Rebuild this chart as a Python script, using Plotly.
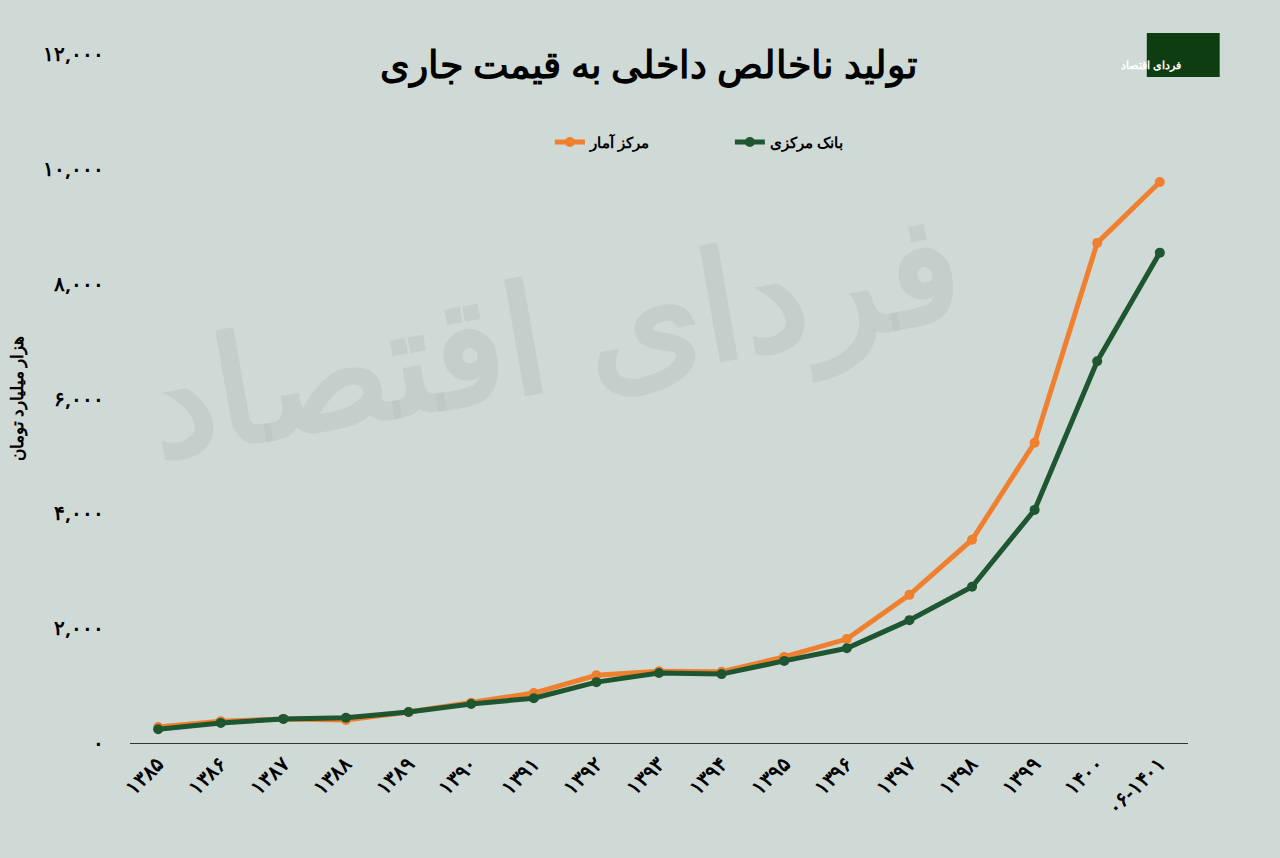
import plotly.graph_objects as go

years = ["۱۳۸۵", "۱۳۸۶", "۱۳۸۷", "۱۳۸۸", "۱۳۸۹", "۱۳۹۰", "۱۳۹۱", "۱۳۹۲", "۱۳۹۳",
         "۱۳۹۴", "۱۳۹۵", "۱۳۹۶", "۱۳۹۷", "۱۳۹۸", "۱۳۹۹", "۱۴۰۰", "۰۶-۱۴۰۱"]
markaz_amar = [280, 380, 420, 400, 540, 700, 870, 1180, 1250, 1240, 1500, 1810,
               2580, 3540, 5230, 8710, 9770]
bank_markazi = [240, 350, 420, 440, 540, 680, 780, 1060, 1220, 1200, 1430, 1650,
                2140, 2720, 4060, 6650, 8540]
y_ticks = [0, 2000, 4000, 6000, 8000, 10000, 12000]
y_labels = ["۰", "۲,۰۰۰", "۴,۰۰۰", "۶,۰۰۰", "۸,۰۰۰", "۱۰,۰۰۰", "۱۲,۰۰۰"]

FONT = "Noto Sans"
fig = go.Figure()
fig.add_trace(go.Scatter(x=years, y=markaz_amar, name="<b>مرکز آمار</b>", mode="lines+markers",
                         line=dict(color="#f07f2e", width=5),
                         marker=dict(size=10, color="#f07f2e")))
fig.add_trace(go.Scatter(x=years, y=bank_markazi, name="<b>بانک مرکزی</b>", mode="lines+markers",
                         line=dict(color="#1e5631", width=5),
                         marker=dict(size=10, color="#1e5631")))

# watermark
fig.add_annotation(text="<b>فردای اقتصاد</b>", xref="paper", yref="paper", x=0.4, y=0.6,
                   showarrow=False, textangle=-10,
                   font=dict(family=FONT, size=150, color="rgba(175,190,183,0.35)"))
# logo
fig.add_shape(type="rect", xref="paper", yref="paper", x0=0.962, x1=1.029,
              y0=0.968, y1=1.029, fillcolor="#0f3d12", line=dict(color="#0f3d12"))
fig.add_annotation(text="<b>فردای اقتصاد</b>", xref="paper", yref="paper", x=0.9955, y=0.999,
                   showarrow=False, font=dict(family=FONT, size=11, color="white"))

fig.update_layout(
    width=1280, height=858,
    paper_bgcolor="#cfd9d6", plot_bgcolor="#cfd9d6",
    margin=dict(l=130, r=92, t=54, b=115),
    font=dict(family=FONT, color="#111"),
    title=dict(text="<b>تولید ناخالص داخلی به قیمت جاری</b>", x=0.507, y=0.925,
               xanchor="center", yanchor="middle", font=dict(size=38, color="#000")),
    legend=dict(orientation="h", x=0.567, xanchor="center", y=0.872, yanchor="middle",
                font=dict(size=15, color="#000"), bgcolor="rgba(0,0,0,0)",
                entrywidth=135),
    showlegend=True,
)
fig.update_xaxes(tickangle=-45, tickfont=dict(size=20, color="#000"), showgrid=False,
                 showline=True, linecolor="#333", linewidth=1, ticks="",
                 ticktext=["<b>%s</b>" % y for y in years], tickvals=years,
                 range=[-0.45, 16.45])
fig.update_yaxes(range=[0, 12000], tickvals=y_ticks, ticktext=["<b>%s</b>" % t for t in y_labels],
                 tickfont=dict(size=20, color="#000"), showgrid=False, zeroline=False,
                 title=dict(text="<b>هزار میلیارد تومان</b>", font=dict(size=17, color="#000")),
                 ticks="", ticklabelstandoff=25)
fig.write_html("out.html", config={"displayModeBar": False})

with open("out.html", encoding="utf-8") as f:
    html = f.read()
html = html.replace("<body>", '<body style="margin:0">', 1)
with open("out.html", "w", encoding="utf-8") as f:
    f.write(html)
